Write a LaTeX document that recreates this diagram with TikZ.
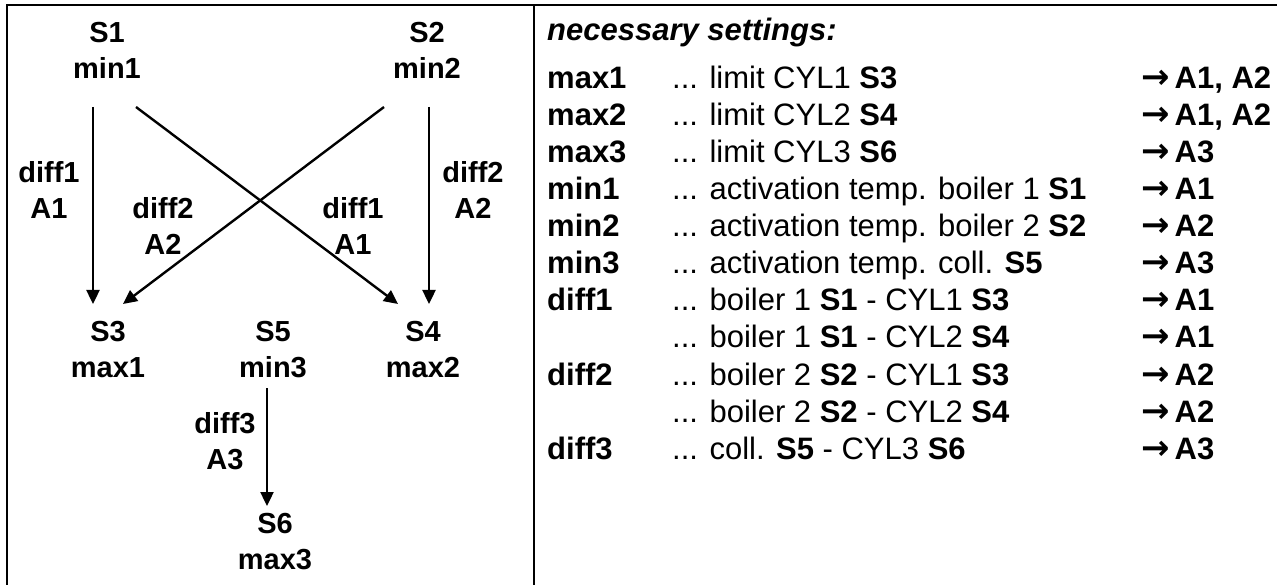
\documentclass[tikz,border=0pt]{standalone}
\usepackage{fontspec}
\setmainfont{Liberation Sans}
\newfontfamily\arrowfont{DejaVu Sans}
\usetikzlibrary{arrows.meta}
\begin{document}
\begin{tikzpicture}[x=1pt,y=-1pt,
  lbl/.style={font=\fontsize{29}{36}\selectfont\bfseries, align=center, inner sep=0pt},
  arr/.style={line width=2.4pt, -{Triangle[length=14pt,width=13pt]}},
  frame/.style={line width=2.2pt},
  row/.style={font=\fontsize{31}{37}\selectfont, anchor=base west, inner sep=0pt},
  rowb/.style={row, font=\fontsize{31}{37}\selectfont\bfseries},
]
\useasboundingbox (0,0) rectangle (1277,585);
\draw[frame] (7,586) -- (7,5) -- (1277,5);
\draw[frame] (534,5) -- (534,586);

% left panel nodes
\node[lbl] (s1) at (107,50) {S1\\min1};
\node[lbl] (s2) at (427,50) {S2\\min2};
\node[lbl] (s3) at (108,350) {S3\\max1};
\node[lbl] (s5) at (273,350) {S5\\min3};
\node[lbl] (s4) at (423,350) {S4\\max2};
\node[lbl] (s6) at (275,542) {S6\\max3};

\node[lbl] (l1) at (49,190) {diff1\\A1};
\node[lbl] (l2) at (163,226) {diff2\\A2};
\node[lbl] (l3) at (353,226) {diff1\\A1};
\node[lbl] (l4) at (473,190) {diff2\\A2};
\node[lbl] (l5) at (225,441) {diff3\\A3};

\draw[arr] ([shift={(-14,57)}]s1.center) -- ([shift={(-15,-46)}]s3.center);
\draw[arr] ([shift={(29,57)}]s1.center) -- ([shift={(-25,-46)}]s4.center);
\draw[arr] ([shift={(-43,57)}]s2.center) -- ([shift={(15,-46)}]s3.center);
\draw[arr] ([shift={(2,57)}]s2.center) -- ([shift={(6,-46)}]s4.center);
\draw[arr] ([shift={(-6,38)}]s5.center) -- ([shift={(-8,-36)}]s6.center);

% right panel
\node[rowb, font=\fontsize{31}{37}\selectfont\bfseries\itshape] (title) at (547,41) {necessary settings:};
\foreach \k/\a/\b/\c in {
  0/max1/{... limit CYL1 \textbf{S3}}/{A1, A2},
  1/max2/{... limit CYL2 \textbf{S4}}/{A1, A2},
  2/max3/{... limit CYL3 \textbf{S6}}/{A3},
  3/min1/{... activation temp. boiler 1 \textbf{S1}}/{A1},
  4/min2/{... activation temp. boiler 2 \textbf{S2}}/{A2},
  5/min3/{... activation temp. coll. \textbf{S5}}/{A3},
  6/diff1/{... boiler 1 \textbf{S1} - CYL1 \textbf{S3}}/{A1},
  7/{}/{... boiler 1 \textbf{S1} - CYL2 \textbf{S4}}/{A1},
  8/diff2/{... boiler 2 \textbf{S2} - CYL1 \textbf{S3}}/{A2},
  9/{}/{... boiler 2 \textbf{S2} - CYL2 \textbf{S4}}/{A2},
  10/diff3/{... coll. \textbf{S5} - CYL3 \textbf{S6}}/{A3}} {
  \node[rowb] (ra\k) at (547,89+37*\k) {\a};
  \node[row] (rb\k) at (672,89+37*\k) {\b};
  \node[rowb] (rc\k) at (1141,89+37*\k) {{\arrowfont\bfseries\fontsize{34}{37}\selectfont →}\hspace{5pt}\c};
}
\end{tikzpicture}
\end{document}
